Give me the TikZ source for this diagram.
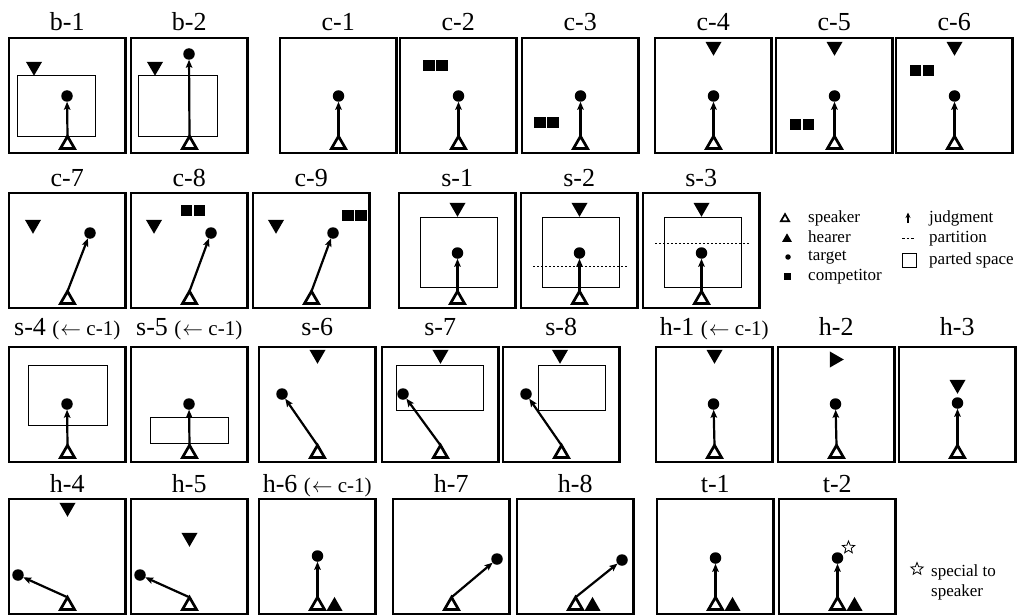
\documentclass[tikz,border=0pt]{standalone}
\usepackage{fontspec}
\setmainfont{Liberation Serif}
\usetikzlibrary{shapes.geometric,arrows.meta,fit}
\tikzset{
 frame/.style={draw, line width=2.9pt, minimum width=116.5pt, minimum height=115pt, inner sep=0pt, outer sep=0pt},
 spkr/.style={regular polygon, regular polygon sides=3, draw, line width=2.7pt, minimum size=16.2pt, inner sep=0pt, outer sep=0pt},
 hrdn/.style={regular polygon, regular polygon sides=3, fill, minimum size=18.5pt, inner sep=0pt, outer sep=0pt, shape border rotate=180},
 hrup/.style={regular polygon, regular polygon sides=3, fill, minimum size=18.5pt, inner sep=0pt, outer sep=0pt},
 hrrt/.style={regular polygon, regular polygon sides=3, fill, minimum size=18.5pt, inner sep=0pt, outer sep=0pt, shape border rotate=-90},
 tgtd/.style={circle, fill, minimum size=11.5pt, inner sep=0pt, outer sep=0pt},
 comp/.style={rectangle, fill, minimum size=11.5pt, inner sep=0pt, outer sep=0pt},
 parted/.style={draw, line width=1pt, inner sep=0pt, outer sep=0pt},
 judg/.style={line width=2.2pt, -{Stealth[length=8pt,width=6.5pt,inset=1.5pt]}},
 partline/.style={line width=1pt, dash pattern=on 2pt off 2pt},
 ttl/.style={anchor=base, font=\fontsize{26}{30}\selectfont, inner sep=0pt},
 lgd/.style={anchor=base west, font=\fontsize{17}{20}\selectfont, inner sep=0pt},
 starfive/.style={star, star points=5, star point ratio=2.3, draw, line width=0.8pt, minimum size=13pt, inner sep=0pt},
}
\newcommand\Sub[1]{{\fontsize{21}{24}\selectfont #1}}
\newcommand\Pfr[3]{\node[frame] (#1f) at (58.25,57.5) {};\node[ttl] (#1l) at (58.25,#3) {#2};}
\newcommand\Psp[1]{\node[spkr] (#1s) at (58.5,106.4) {};}
\newcommand\Ptg[3]{\node[tgtd] (#1t) at (#2,#3) {};\draw[judg] (#1s.north) -- (#1t);}
\newcommand\Phd[3]{\node[hrdn] (#1h) at (#2,#3) {};}
\newcommand\Phu[1]{\node[hrup] (#1h) at (75.5,107.2) {};}
\newcommand\Pcp[3]{\node[comp] (#1c) at ({#2-6.5},#3) {};\node[comp] (#1d) at ({#2+6.5},#3) {};}
\newcommand\Prc[5]{\node[parted, fit={(#2,#3) (#4,#5)}] (#1r) {};}
\newcommand\Ppt[2]{\coordinate (#1a) at (12,#2);\coordinate (#1b) at (106,#2);\draw[partline] (#1a) -- (#1b);}
\newcommand\Larr{(\kern1pt$\leftarrow$ c-1)}
\begin{document}
\begin{tikzpicture}[x=1pt,y=-1pt]
\useasboundingbox (0,0) rectangle (1019,615);
% ---------- row 1
\begin{scope}[shift={(9,38)}]
 \Pfr{ba}{b-1}{-7}\Prc{ba}{8}{38}{86}{98}\Phd{ba}{25}{28.5}\Psp{ba}\Ptg{ba}{58}{58}
\end{scope}
\begin{scope}[shift={(131,38)}]
 \Pfr{bb}{b-2}{-7}\Prc{bb}{7}{38}{86}{98}\Phd{bb}{24}{28.5}\Psp{bb}\Ptg{bb}{58}{16}
\end{scope}
\begin{scope}[shift={(280,38)}]
 \Pfr{ca}{c-1}{-7}\Psp{ca}\Ptg{ca}{58.5}{58}
\end{scope}
\begin{scope}[shift={(400,38)}]
 \Pfr{cb}{c-2}{-7}\Pcp{cb}{35.5}{27.5}\Psp{cb}\Ptg{cb}{58.5}{58}
\end{scope}
\begin{scope}[shift={(522,38)}]
 \Pfr{cc}{c-3}{-7}\Pcp{cc}{24.5}{84.5}\Psp{cc}\Ptg{cc}{58.5}{58}
\end{scope}
\begin{scope}[shift={(655,38)}]
 \Pfr{cd}{c-4}{-7}\Phd{cd}{58.5}{8.5}\Psp{cd}\Ptg{cd}{58.5}{58}
\end{scope}
\begin{scope}[shift={(776,38)}]
 \Pfr{ce}{c-5}{-7}\Phd{ce}{58.5}{8.5}\Pcp{ce}{26}{86.5}\Psp{ce}\Ptg{ce}{58.5}{58}
\end{scope}
\begin{scope}[shift={(896,38)}]
 \Pfr{cf}{c-6}{-7}\Phd{cf}{58.5}{8.5}\Pcp{cf}{26}{32.5}\Psp{cf}\Ptg{cf}{58.5}{58}
\end{scope}
% ---------- row 2
\begin{scope}[shift={(9,193)}]
 \Pfr{cg}{c-7}{-7}\Phd{cg}{24}{31.5}\Psp{cg}\Ptg{cg}{81}{40}
\end{scope}
\begin{scope}[shift={(131,193)}]
 \Pfr{ch}{c-8}{-7}\Pcp{ch}{62}{17.5}\Phd{ch}{23}{31.5}\Psp{ch}\Ptg{ch}{80}{40}
\end{scope}
\begin{scope}[shift={(253,193)}]
 \Pfr{ci}{c-9}{-7}\Pcp{ci}{101.5}{22.5}\Phd{ci}{23}{31.5}\Psp{ci}\Ptg{ci}{80}{40}
\end{scope}
\begin{scope}[shift={(399,193)}]
 \Pfr{sa}{s-1}{-7}\Phd{sa}{58.5}{14.5}\Prc{sa}{21}{24}{98}{94}\Psp{sa}\Ptg{sa}{58.5}{60}
\end{scope}
\begin{scope}[shift={(521,193)}]
 \Pfr{sb}{s-2}{-7}\Phd{sb}{58.5}{14.5}\Prc{sb}{21}{24}{98}{94}\Ppt{sb}{73}\Psp{sb}\Ptg{sb}{58.5}{60}
\end{scope}
\begin{scope}[shift={(643,193)}]
 \Pfr{sc}{s-3}{-7}\Phd{sc}{58.5}{14.5}\Prc{sc}{21}{24}{98}{94}\Ppt{sc}{50}\Psp{sc}\Ptg{sc}{58.5}{60}
\end{scope}
% ---------- legend
\node[regular polygon, regular polygon sides=3, draw, line width=1.7pt, minimum size=9.6pt, inner sep=0pt] (lsp) at (785,218.9) {};
\node[lgd] (lspt) at (808,222) {speaker};
\node[regular polygon, regular polygon sides=3, fill, minimum size=11.5pt, inner sep=0pt] (lhr) at (787,239.1) {};
\node[lgd] (lhrt) at (808,242) {hearer};
\node[circle, fill, minimum size=5.5pt, inner sep=0pt] (ltg) at (788,257) {};
\node[lgd] (ltgt) at (808,260) {target};
\node[rectangle, fill, minimum size=7pt, inner sep=0pt] (lcp) at (787.5,276.5) {};
\node[lgd] (lcpt) at (808,280) {competitor};
\coordinate (lja) at (908,223);
\coordinate (ljb) at (908,212.5);
\draw[line width=1.1pt, -{Stealth[length=5.5pt,width=5pt]}] (lja) -- (ljb);
\node[lgd] (ljt) at (929,222) {judgment};
\coordinate (lpa) at (902,238.5);
\coordinate (lpb) at (915,238.5);
\draw[line width=0.9pt, dash pattern=on 2.5pt off 2pt] (lpa) -- (lpb);
\node[lgd] (lpt) at (929,242) {partition};
\node[draw, line width=1.1pt, minimum size=14pt, inner sep=0pt] (lps) at (909.5,260.5) {};
\node[lgd] (lpst) at (929,264) {parted space};
% ---------- row 3
\begin{scope}[shift={(9,347)}]
 \Pfr{sd}{s-4 \Sub{\Larr}}{-11.5}\Prc{sd}{19}{18}{98}{78}\Psp{sd}\Ptg{sd}{58}{57}
\end{scope}
\begin{scope}[shift={(131,347)}]
 \Pfr{se}{s-5 \Sub{\Larr}}{-11.5}\Prc{se}{19}{70}{97}{96}\Psp{se}\Ptg{se}{58}{57}
\end{scope}
\begin{scope}[shift={(259,347)}]
 \Pfr{sf}{s-6}{-11.5}\Phd{sf}{58.5}{7.5}\Psp{sf}\Ptg{sf}{23}{47}
\end{scope}
\begin{scope}[shift={(382,347)}]
 \Pfr{sg}{s-7}{-11.5}\Phd{sg}{58.5}{7.5}\Prc{sg}{14}{18}{101}{63}\Psp{sg}\Ptg{sg}{21}{47}
\end{scope}
\begin{scope}[shift={(503,347)}]
 \Pfr{sh}{s-8}{-11.5}\Phd{sh}{57}{7.5}\Prc{sh}{35}{18}{102}{63}\Psp{sh}\Ptg{sh}{23}{47}
\end{scope}
\begin{scope}[shift={(656,347)}]
 \Pfr{ha}{h-1 \Sub{\Larr}}{-11.5}\Phd{ha}{58.5}{7.5}\Psp{ha}\Ptg{ha}{57.5}{57}
\end{scope}
\begin{scope}[shift={(778,347)}]
 \Pfr{hb}{h-2}{-11.5}\node[hrrt] (hbh) at (56.5,12.5) {};\Psp{hb}\Ptg{hb}{57.5}{57}
\end{scope}
\begin{scope}[shift={(899,347)}]
 \Pfr{hc}{h-3}{-11.5}\Phd{hc}{58.5}{37.5}\Psp{hc}\Ptg{hc}{58.5}{56}
\end{scope}
% ---------- row 4
\begin{scope}[shift={(9,499)}]
 \Pfr{hd}{h-4}{-7}\Phd{hd}{58.5}{8.5}\Psp{hd}\Ptg{hd}{9}{76}
\end{scope}
\begin{scope}[shift={(131,499)}]
 \Pfr{he}{h-5}{-7}\Phd{he}{58.5}{38.5}\Psp{he}\Ptg{he}{9}{76}
\end{scope}
\begin{scope}[shift={(259,499)}]
 \Pfr{hf}{h-6 \Sub{\Larr}}{-7}\Psp{hf}\Phu{hf}\Ptg{hf}{58.5}{57}
\end{scope}
\begin{scope}[shift={(393,499)}]
 \Pfr{hg}{h-7}{-7}\Psp{hg}\Ptg{hg}{104}{60}
\end{scope}
\begin{scope}[shift={(517,499)}]
 \Pfr{hh}{h-8}{-7}\Psp{hh}\Phu{hh}\Ptg{hh}{105}{61}
\end{scope}
\begin{scope}[shift={(657,499)}]
 \Pfr{ta}{t-1}{-7}\Psp{ta}\Phu{ta}\Ptg{ta}{58.5}{59}
\end{scope}
\begin{scope}[shift={(779,499)}]
 \Pfr{tb}{t-2}{-7}\Psp{tb}\Phu{tb}\Ptg{tb}{58.5}{59}\node[starfive] (tbst) at (69.5,48.5) {};
\end{scope}
\node[starfive] (lst) at (917,569) {};
\node[lgd] (lstt) at (931,576) {special to};
\node[lgd] (lstu) at (931,596) {speaker};
\end{tikzpicture}
\end{document}
